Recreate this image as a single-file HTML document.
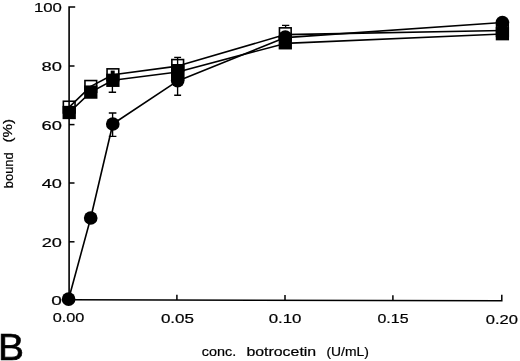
<!DOCTYPE html>
<html><head><meta charset="utf-8"><title>B</title>
<style>html,body{margin:0;padding:0;background:#fff}svg{display:block;filter:grayscale(1)}text{font-family:"Liberation Sans",sans-serif;fill:#000;stroke:#000;stroke-width:.2px}</style>
</head><body>
<svg width="520" height="361" viewBox="0 0 520 361">
<rect width="520" height="361" fill="#fff"/>
<g stroke="#000" stroke-width="1.6" fill="none" stroke-linecap="butt">
<path d="M75.2 7 H69.1 V300.0"/>
</g>
<g stroke="#000" stroke-width="1.5" fill="none" stroke-linecap="square">
<path d="M69.1 299.8 L501.8 300.8 V295.6"/>
</g>
<g stroke="#000" stroke-width="1.5" fill="none">
<path d="M69.1 241.8 h5.4"/>
<path d="M69.1 183.0 h5.4"/>
<path d="M69.1 124.6 h5.4"/>
<path d="M69.1 66.0 h5.4"/>
<path d="M176.9 300.05 v-5.3"/>
<path d="M285.0 300.30 v-5.3"/>
<path d="M392.9 300.55 v-5.3"/>
</g>
<g stroke="#000" stroke-width="1.6" fill="none">
<rect x="63.35" y="101.25" width="11.7" height="11.7"/>
<rect x="84.95" y="80.55" width="11.7" height="11.7"/>
<rect x="107.05" y="68.85" width="11.7" height="11.7"/>
<rect x="171.85" y="59.55" width="11.7" height="11.7"/>
<rect x="279.45" y="27.85" width="11.7" height="11.7"/>
<rect x="496.55" y="24.65" width="11.7" height="11.7"/>
</g>
<g stroke="#000" stroke-width="1.6" fill="none" stroke-linejoin="round">
<polyline points="69.2,107.1 90.8,86.4 112.9,74.7 177.7,66.1 285.3,34.6 502.4,30.5"/>
<polyline points="69.2,112.5 90.8,92.1 112.9,80.3 177.7,72.0 285.3,43.4 502.4,34.0"/>
<polyline points="68.6,299.2 90.7,218.0 112.8,124.0 177.7,80.9 285.3,37.6 502.4,22.5"/>
</g>
<g stroke="#000" stroke-width="1.35" fill="none">
<path d="M112.6 113.0 V136.3 M108.8 113.0 h7.6 M108.8 136.3 h7.6"/>
<path d="M177.6 57.4 V95.2 M174.2 57.4 h6.9 M174.2 95.2 h6.9"/>
<path d="M112.4 80.0 V92.2 M108.7 92.2 h7.4"/>
<path d="M285.6 25.3 V27.2 M282.0 25.3 h7.3"/>
</g>
<rect x="110.7" y="70.6" width="4" height="4" fill="#000"/>
<g fill="#000" stroke="none">
<rect x="62.55" y="105.85" width="13.3" height="13.3"/>
<rect x="84.15" y="85.45" width="13.3" height="13.3"/>
<rect x="106.25" y="73.65" width="13.3" height="13.3"/>
<rect x="171.05" y="64.55" width="13.3" height="13.3"/>
<rect x="278.65" y="36.15" width="13.3" height="13.3"/>
<rect x="495.75" y="27.05" width="13.3" height="13.3"/>
<rect x="171.05" y="64.0" width="13.3" height="16.5"/>
<circle cx="68.6" cy="299.2" r="6.85"/>
<circle cx="90.7" cy="218.0" r="6.85"/>
<circle cx="112.8" cy="124.0" r="6.85"/>
<circle cx="177.7" cy="80.6" r="6.85"/>
<circle cx="285.3" cy="37.2" r="6.85"/>
<circle cx="502.4" cy="22.5" r="6.85"/>
</g>
<text x="61.9" y="305.0" font-size="13.0" text-anchor="end" textLength="10.6" lengthAdjust="spacingAndGlyphs">0</text>
<text x="61.9" y="247.0" font-size="13.0" text-anchor="end" textLength="20.2" lengthAdjust="spacingAndGlyphs">20</text>
<text x="61.9" y="188.1" font-size="13.0" text-anchor="end" textLength="20.2" lengthAdjust="spacingAndGlyphs">40</text>
<text x="61.9" y="130.0" font-size="13.0" text-anchor="end" textLength="20.4" lengthAdjust="spacingAndGlyphs">60</text>
<text x="61.9" y="71.3" font-size="13.0" text-anchor="end" textLength="20.4" lengthAdjust="spacingAndGlyphs">80</text>
<text x="61.9" y="12.3" font-size="13.0" text-anchor="end" textLength="28.0" lengthAdjust="spacingAndGlyphs">100</text>
<text x="52.7" y="322.4" font-size="13.0" text-anchor="start" textLength="31.7" lengthAdjust="spacingAndGlyphs">0.00</text>
<text x="160.9" y="322.8" font-size="13.0" text-anchor="start" textLength="33.09999999999998" lengthAdjust="spacingAndGlyphs">0.05</text>
<text x="268.70000000000005" y="322.9" font-size="13.0" text-anchor="start" textLength="32.8" lengthAdjust="spacingAndGlyphs">0.10</text>
<text x="377.5" y="323.1" font-size="13.0" text-anchor="start" textLength="31.000000000000046" lengthAdjust="spacingAndGlyphs">0.15</text>
<text x="485.70000000000005" y="323.7" font-size="13.0" text-anchor="start" textLength="32.199999999999974" lengthAdjust="spacingAndGlyphs">0.20</text>
<text x="201.8" y="356.3" font-size="11.9" text-anchor="start" textLength="34.4" lengthAdjust="spacingAndGlyphs">conc.</text>
<text x="246.4" y="356.3" font-size="11.9" text-anchor="start" textLength="69.8" lengthAdjust="spacingAndGlyphs">botrocetin</text>
<text x="326.4" y="356.0" font-size="12.2" text-anchor="start" textLength="42.4" lengthAdjust="spacingAndGlyphs">(U/mL)</text>
<g transform="translate(12.6,153) rotate(-90)">
<text x="-35.2" y="0" font-size="11.9" text-anchor="start" textLength="35.8" lengthAdjust="spacingAndGlyphs">bound</text>
<text x="10.4" y="-0.2" font-size="12.2" text-anchor="start" textLength="23.6" lengthAdjust="spacingAndGlyphs">(%)</text>
</g>
<text x="-1.9" y="359.7" font-size="37.6" textLength="26" lengthAdjust="spacingAndGlyphs" style="stroke-width:.7px">B</text>
</svg>
</body></html>
